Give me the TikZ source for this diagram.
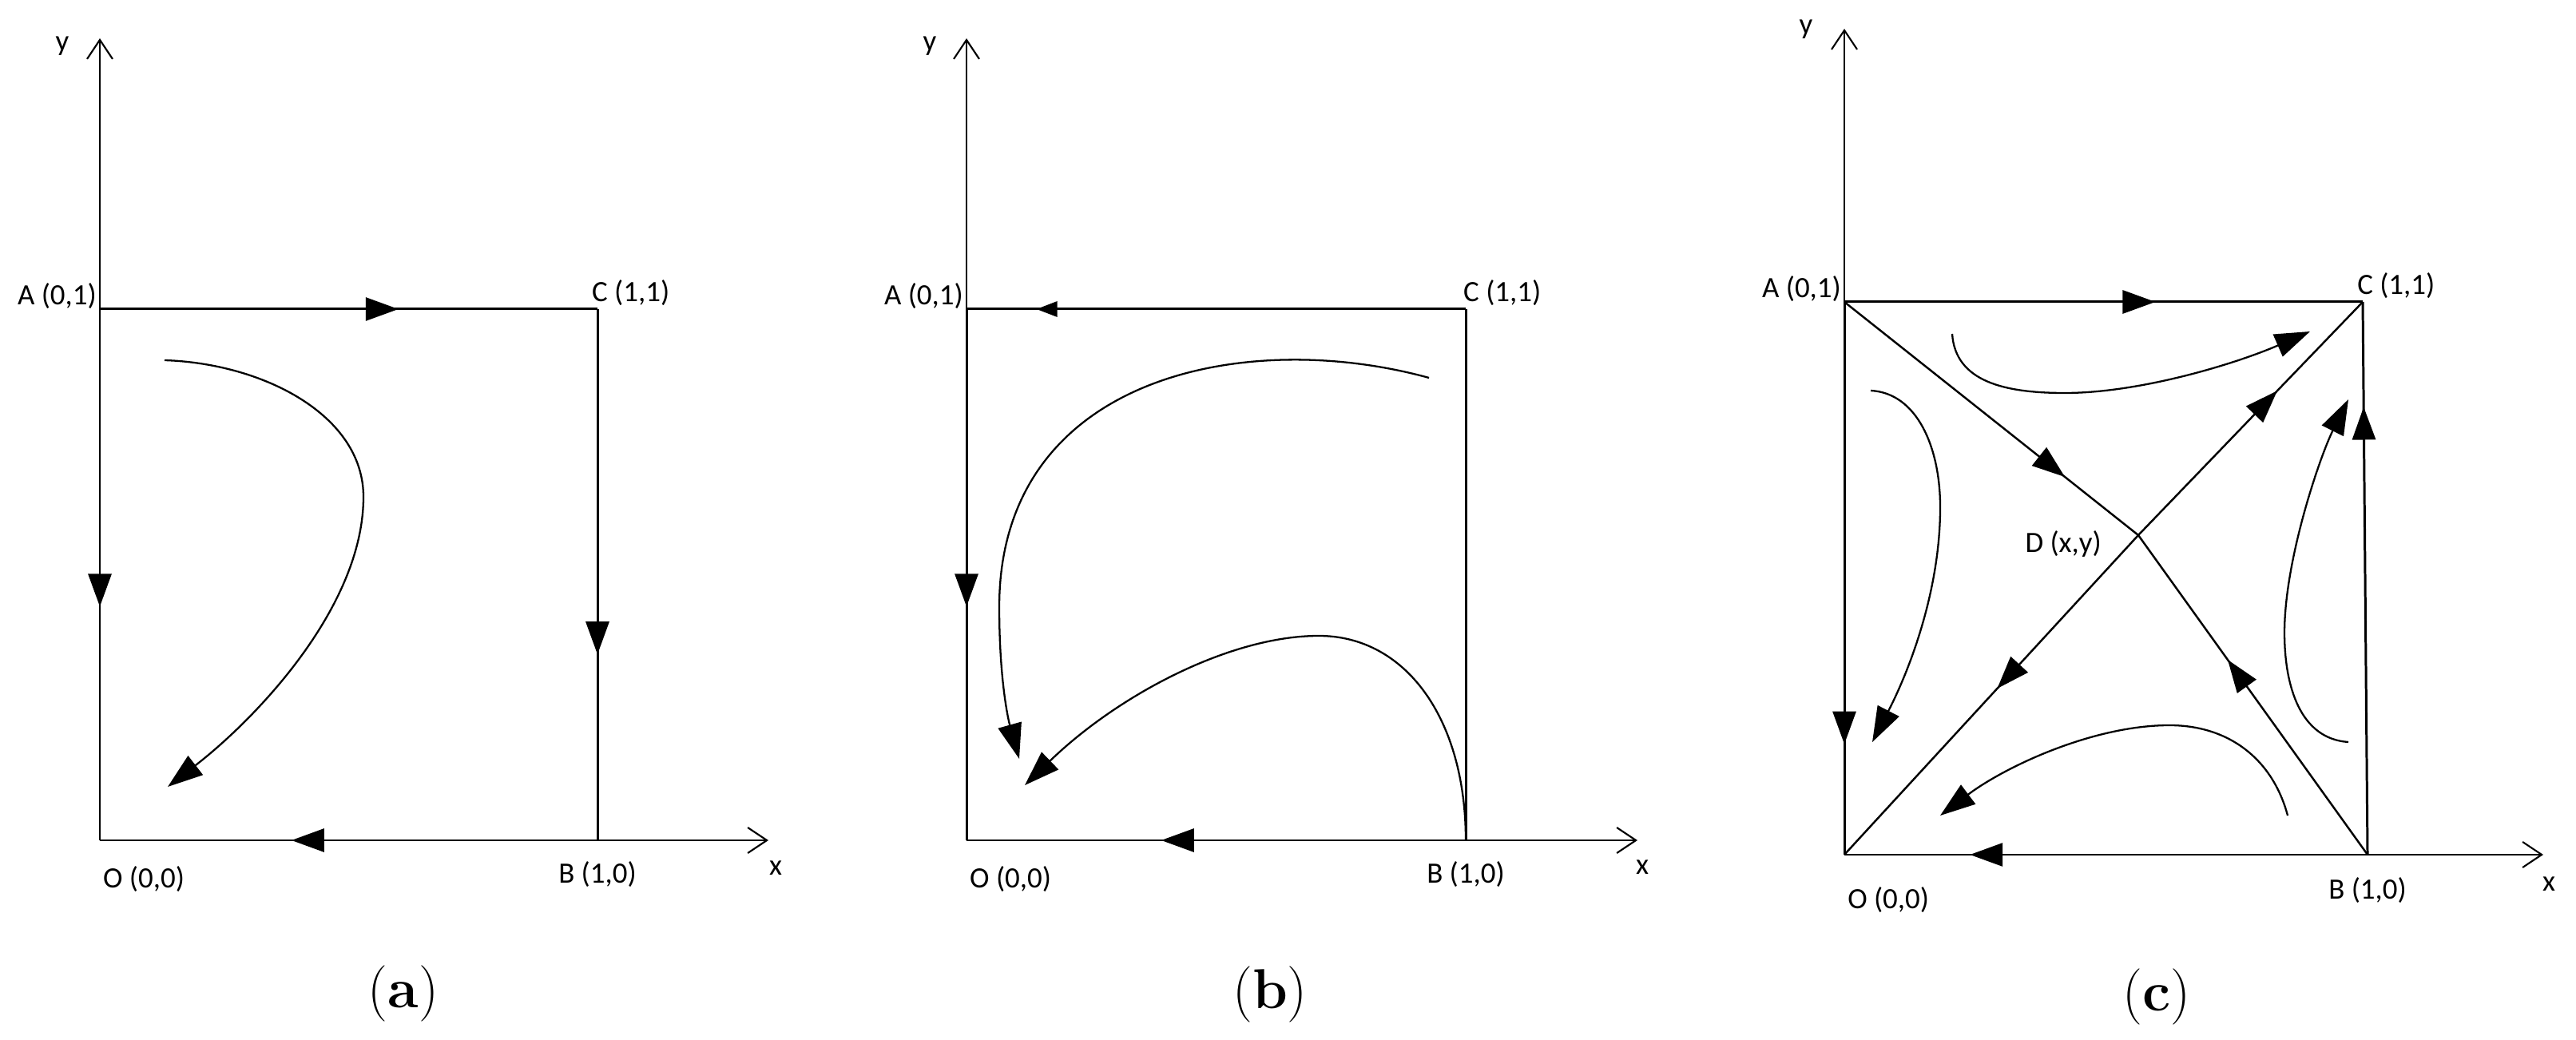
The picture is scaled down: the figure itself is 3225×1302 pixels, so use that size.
\documentclass[tikz,border=0pt]{standalone}
\usepackage{fontspec}
\newfontfamily\lblfont{Carlito}
\usetikzlibrary{positioning,arrows.meta,decorations.markings}

\begin{document}
\begin{tikzpicture}[
    x=0.1mm, y=-0.1mm,
    axis/.style={-{Straight Barb[length=2.4mm,width=3.2mm]}, line width=0.6pt},
    side/.style={line width=0.85pt},
    diag/.style={line width=0.7pt},
    traj/.style={line width=0.65pt, -{Triangle[length=4.4mm,width=3mm]}},
    midarr/.style={postaction={decorate}, decoration={markings, mark=at position #1 with {\arrow{Triangle[length=4.1mm,width=2.9mm]}}}},
    smallarr/.style={postaction={decorate}, decoration={markings, mark=at position #1 with {\arrow{Triangle[length=2.6mm,width=1.9mm]}}}},
    lbl/.style={font=\lblfont\fontsize{10.5}{12}\selectfont, inner sep=1pt},
    subcap/.style={font=\fontsize{20}{24}\selectfont, inner sep=0pt}
]
\useasboundingbox (0,0) rectangle (3225,1302);

% ---- panel (a) ----
\coordinate (aO) at (125,1052);
\coordinate (aA) at (125,387);
\coordinate (aC) at (748,387);
\coordinate (aB) at (748,1052);
\coordinate (aX) at (962,1052);
\coordinate (aY) at (125,48);

\draw[axis] (aO) -- (aY);
\draw[axis] (aO) -- (aX);
\draw[side, midarr=0.6] (aA) -- (aC);
\draw[side, midarr=0.56] (aA) -- (aO);
\draw[side, midarr=0.65] (aC) -- (aB);
\draw[side, midarr=0.615] (aB) -- (aO);

% trajectory
\draw[traj] (206,451) .. controls (330,455) and (455,520) .. (455,622)
    .. controls (455,760) and (320,900) .. (210,985);

\node[lbl, above left=-0.4mm and 0mm of aA] (aAl) {A (0,1)};
\node[lbl, above right=0mm and -1.1mm of aC] (aCl) {C (1,1)};
\node[lbl, below right=2.8mm and 0mm of aO] (aOl) {O (0,0)};
\node[lbl, below=2.2mm of aB] (aBl) {B (1,0)};
\node[lbl] (aXl) at (971,1087) {x};
\node[lbl] (aYl) at (78,58) {y};
\node[subcap] (aCap) at (505,1244) {(\textbf{a})};

% ---- panel (b) ----
\coordinate (bO) at (1210,1052);
\coordinate (bA) at (1210,387);
\coordinate (bC) at (1835,387);
\coordinate (bB) at (1835,1052);
\coordinate (bX) at (2050,1052);
\coordinate (bY) at (1210,48);

\draw[axis] (bO) -- (bY);
\draw[axis] (bO) -- (bX);
\draw[side, smallarr=0.86] (bC) -- (bA);
\draw[side, midarr=0.56] (bA) -- (bO);
\draw[side] (bC) -- (bB);
\draw[side, midarr=0.61] (bB) -- (bO);

% trajectories
\draw[traj] (1789,473) .. controls (1560,410) and (1251,470) .. (1251,760)
    .. controls (1251,850) and (1262,900) .. (1276,950);
\draw[traj] (bB) .. controls (1835,900) and (1760,796) .. (1651,796)
    .. controls (1540,796) and (1400,870) .. (1283,983);

\node[lbl, above left=-0.4mm and 0mm of bA] (bAl) {A (0,1)};
\node[lbl, above right=0mm and -0.7mm of bC] (bCl) {C (1,1)};
\node[lbl, below right=2.8mm and 0mm of bO] (bOl) {O (0,0)};
\node[lbl, below=2.2mm of bB] (bBl) {B (1,0)};
\node[lbl] (bXl) at (2056,1086) {x};
\node[lbl] (bYl) at (1164,58) {y};
\node[subcap] (bCap) at (1590,1245) {(\textbf{b})};

% ---- panel (c) ----
\coordinate (cO) at (2309,1070);
\coordinate (cA) at (2309,378);
\coordinate (cC) at (2958,378);
\coordinate (cB) at (2964,1070);
\coordinate (cD) at (2677,670);
\coordinate (cX) at (3184,1070);
\coordinate (cY) at (2309,36);

\draw[axis] (cO) -- (cY);
\draw[axis] (cO) -- (cX);
\draw[side, midarr=0.6] (cA) -- (cC);
\draw[side, midarr=0.8] (cA) -- (cO);
\draw[side, midarr=0.81] (cB) -- (cC);
\draw[side, midarr=0.76] (cB) -- (cO);

% separatrices through D
\draw[diag, midarr=0.75] (cA) -- (cD);
\draw[diag, midarr=0.61] (cB) -- (cD);
\draw[diag, midarr=0.62] (cD) -- (cC);
\draw[diag, midarr=0.48] (cD) -- (cO);

% trajectories
\draw[traj] (2444,418) .. controls (2448,478) and (2510,492) .. (2585,492)
    .. controls (2680,492) and (2800,455) .. (2892,415);
\draw[traj] (2342,489) .. controls (2400,492) and (2429,560) .. (2429,635)
    .. controls (2429,740) and (2390,840) .. (2344,929);
\draw[traj] (2940,929) .. controls (2880,925) and (2860,860) .. (2860,792)
    .. controls (2860,700) and (2905,570) .. (2940,500);
\draw[traj] (2864,1021) .. controls (2845,950) and (2790,908) .. (2716,908)
    .. controls (2620,908) and (2510,960) .. (2429,1021);

\node[lbl, above left=-0.4mm and 0mm of cA] (cAl) {A (0,1)};
\node[lbl, above right=0mm and -1.1mm of cC] (cCl) {C (1,1)};
\node[lbl, below right=3.6mm and 0mm of cO] (cOl) {O (0,0)};
\node[lbl, below=2.4mm of cB] (cBl) {B (1,0)};
\node[lbl, below left=-1mm and 4.2mm of cD] (cDl) {D (x,y)};
\node[lbl] (cXl) at (3191,1107) {x};
\node[lbl] (cYl) at (2261,37) {y};
\node[subcap] (cCap) at (2700,1248) {(\textbf{c})};

\end{tikzpicture}
\end{document}
